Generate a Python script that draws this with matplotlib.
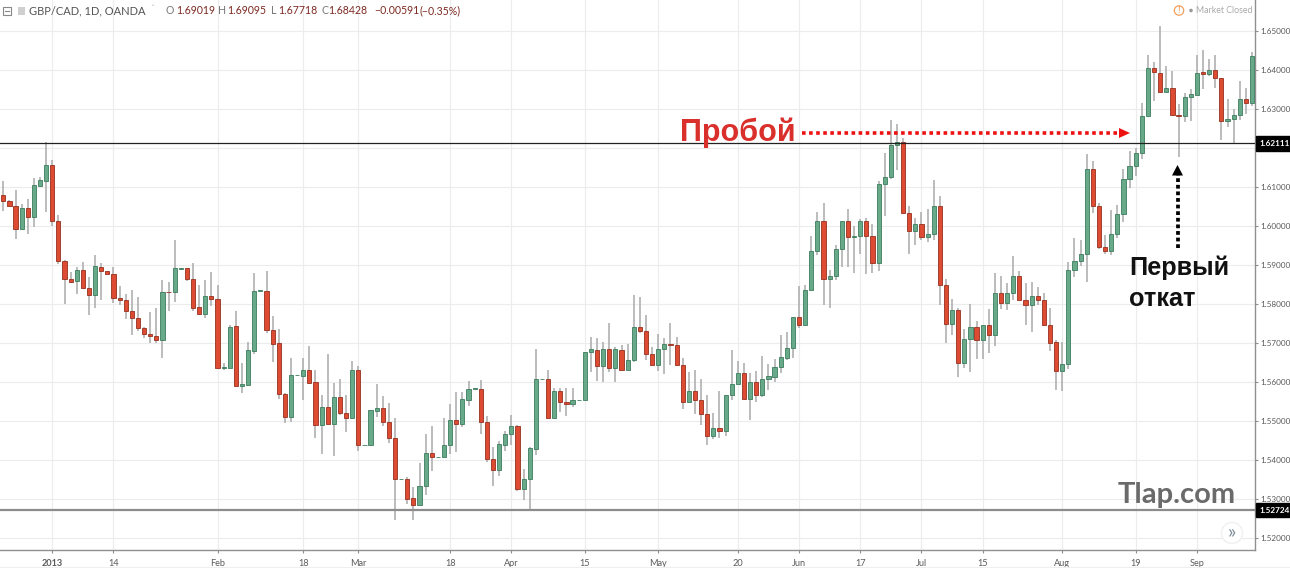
import matplotlib
matplotlib.use('Agg')
import numpy as np
from matplotlib import pyplot as plt
from matplotlib.patches import Circle, Polygon, Rectangle

opens = [
    1.6079, 1.6065, 1.6051, 1.5991, 1.6046, 1.6022, 1.6103, 1.6116, 1.6157, 1.6012,
    1.5911, 1.5864, 1.5858, 1.5887, 1.5841, 1.5823, 1.5896, 1.5884, 1.5878, 1.5816,
    1.5810, 1.5782, 1.5765, 1.5739, 1.5723, 1.5718, 1.5708, 1.5831, 1.5830, 1.5890,
    1.5891, 1.5864, 1.5792, 1.5775, 1.5820, 1.5813, 1.5637, 1.5637, 1.5743, 1.5590,
    1.5593, 1.5680, 1.5834, 1.5834, 1.5733, 1.5699, 1.5569, 1.5511, 1.5617, 1.5616,
    1.5631, 1.5599, 1.5489, 1.5537, 1.5492, 1.5561, 1.5521, 1.5507, 1.5631, 1.5439,
    1.5439, 1.5527, 1.5533, 1.5499, 1.5457, 1.5351, 1.5351, 1.5302, 1.5285, 1.5334,
    1.5418, 1.5407, 1.5407, 1.5439, 1.5504, 1.5492, 1.5555, 1.5583, 1.5583, 1.5499,
    1.5404, 1.5374, 1.5439, 1.5466, 1.5487, 1.5326, 1.5351, 1.5429, 1.5607, 1.5607,
    1.5509, 1.5576, 1.5550, 1.5545, 1.5553, 1.5553, 1.5677, 1.5683, 1.5642, 1.5685,
    1.5637, 1.5681, 1.5632, 1.5656, 1.5742, 1.5732, 1.5673, 1.5645, 1.5684, 1.5698,
    1.5695, 1.5645, 1.5550, 1.5578, 1.5555, 1.5518, 1.5462, 1.5483, 1.5474, 1.5567,
    1.5594, 1.5624, 1.5556, 1.5601, 1.5568, 1.5608, 1.5614, 1.5638, 1.5663, 1.5687,
    1.5767, 1.5745, 1.5835, 1.5936, 1.6012, 1.5864, 1.5873, 1.5942, 1.6012, 1.5972,
    1.5973, 1.6012, 1.5974, 1.5905, 1.6108, 1.6125, 1.6206, 1.6214, 1.6034, 1.5988,
    1.6005, 1.5972, 1.5980, 1.6052, 1.5848, 1.5750, 1.5784, 1.5650, 1.5711, 1.5741,
    1.5707, 1.5745, 1.5720, 1.5828, 1.5803, 1.5829, 1.5872, 1.5810, 1.5797, 1.5821,
    1.5811, 1.5746, 1.5703, 1.5629, 1.5646, 1.5888, 1.5910, 1.5927, 1.6145, 1.6050,
    1.5947, 1.5936, 1.5980, 1.6030, 1.6121, 1.6153, 1.6188, 1.6281, 1.6405, 1.6392,
    1.6343, 1.6354, 1.6284, 1.6281, 1.6330, 1.6336, 1.6393, 1.6390, 1.6400, 1.6379,
    1.6268, 1.6274, 1.6284, 1.6324, 1.6315,
]
highs = [
    1.6115, 1.6067, 1.6092, 1.6055, 1.6069, 1.6123, 1.6125, 1.6215, 1.6168, 1.6028,
    1.5913, 1.5883, 1.5894, 1.5907, 1.5870, 1.5926, 1.5905, 1.5885, 1.5894, 1.5847,
    1.5826, 1.5836, 1.5819, 1.5742, 1.5780, 1.5789, 1.5861, 1.5857, 1.5965, 1.5892,
    1.5892, 1.5904, 1.5849, 1.5861, 1.5883, 1.5849, 1.5650, 1.5747, 1.5782, 1.5648,
    1.5703, 1.5879, 1.5835, 1.5885, 1.5770, 1.5735, 1.5571, 1.5663, 1.5618, 1.5661,
    1.5692, 1.5632, 1.5567, 1.5671, 1.5598, 1.5609, 1.5566, 1.5655, 1.5641, 1.5440,
    1.5528, 1.5596, 1.5565, 1.5547, 1.5509, 1.5352, 1.5357, 1.5332, 1.5393, 1.5466,
    1.5487, 1.5408, 1.5507, 1.5545, 1.5574, 1.5575, 1.5602, 1.5584, 1.5605, 1.5513,
    1.5433, 1.5450, 1.5475, 1.5515, 1.5490, 1.5377, 1.5434, 1.5684, 1.5608, 1.5631,
    1.5586, 1.5584, 1.5584, 1.5584, 1.5554, 1.5678, 1.5716, 1.5714, 1.5703, 1.5752,
    1.5691, 1.5694, 1.5697, 1.5823, 1.5819, 1.5773, 1.5690, 1.5724, 1.5714, 1.5752,
    1.5715, 1.5661, 1.5626, 1.5632, 1.5607, 1.5566, 1.5521, 1.5576, 1.5568, 1.5681,
    1.5653, 1.5650, 1.5624, 1.5628, 1.5667, 1.5647, 1.5660, 1.5720, 1.5728, 1.5767,
    1.5845, 1.5848, 1.5973, 1.6035, 1.6059, 1.5888, 1.5952, 1.6012, 1.6044, 1.6001,
    1.6018, 1.6021, 1.6006, 1.6114, 1.6188, 1.6271, 1.6260, 1.6224, 1.6050, 1.6020,
    1.6036, 1.6044, 1.6117, 1.6076, 1.5863, 1.5814, 1.5790, 1.5737, 1.5799, 1.5756,
    1.5747, 1.5788, 1.5880, 1.5872, 1.5854, 1.5923, 1.5885, 1.5854, 1.5856, 1.5844,
    1.5828, 1.5791, 1.5707, 1.5703, 1.5908, 1.5970, 1.5965, 1.6183, 1.6166, 1.6059,
    1.5976, 1.6042, 1.6053, 1.6145, 1.6191, 1.6200, 1.6315, 1.6437, 1.6420, 1.6512,
    1.6409, 1.6396, 1.6313, 1.6341, 1.6351, 1.6437, 1.6450, 1.6428, 1.6439, 1.6379,
    1.6324, 1.6300, 1.6370, 1.6354, 1.6445,
]
lows = [
    1.6038, 1.6050, 1.5967, 1.5991, 1.5979, 1.5998, 1.6103, 1.6035, 1.6001, 1.5902,
    1.5800, 1.5855, 1.5826, 1.5838, 1.5772, 1.5789, 1.5811, 1.5877, 1.5802, 1.5798,
    1.5761, 1.5720, 1.5730, 1.5712, 1.5699, 1.5699, 1.5663, 1.5782, 1.5804, 1.5890,
    1.5860, 1.5782, 1.5774, 1.5763, 1.5794, 1.5636, 1.5631, 1.5637, 1.5590, 1.5573,
    1.5590, 1.5672, 1.5834, 1.5727, 1.5651, 1.5558, 1.5496, 1.5498, 1.5617, 1.5554,
    1.5598, 1.5456, 1.5415, 1.5492, 1.5411, 1.5515, 1.5473, 1.5507, 1.5423, 1.5439,
    1.5439, 1.5511, 1.5487, 1.5443, 1.5248, 1.5351, 1.5289, 1.5246, 1.5285, 1.5310,
    1.5372, 1.5407, 1.5407, 1.5417, 1.5420, 1.5484, 1.5540, 1.5583, 1.5467, 1.5396,
    1.5335, 1.5359, 1.5424, 1.5439, 1.5321, 1.5298, 1.5272, 1.5413, 1.5607, 1.5509,
    1.5509, 1.5524, 1.5513, 1.5535, 1.5553, 1.5553, 1.5626, 1.5603, 1.5601, 1.5626,
    1.5601, 1.5630, 1.5630, 1.5651, 1.5726, 1.5657, 1.5643, 1.5628, 1.5621, 1.5645,
    1.5645, 1.5530, 1.5550, 1.5519, 1.5489, 1.5439, 1.5455, 1.5457, 1.5461, 1.5553,
    1.5594, 1.5556, 1.5502, 1.5550, 1.5562, 1.5579, 1.5600, 1.5623, 1.5656, 1.5662,
    1.5739, 1.5745, 1.5835, 1.5925, 1.5798, 1.5790, 1.5862, 1.5895, 1.5895, 1.5880,
    1.5929, 1.5878, 1.5880, 1.5885, 1.6026, 1.6119, 1.6144, 1.6034, 1.5929, 1.5950,
    1.5963, 1.5959, 1.5963, 1.5797, 1.5700, 1.5720, 1.5612, 1.5635, 1.5626, 1.5660,
    1.5658, 1.5675, 1.5692, 1.5788, 1.5784, 1.5810, 1.5810, 1.5747, 1.5729, 1.5797,
    1.5743, 1.5680, 1.5581, 1.5577, 1.5634, 1.5868, 1.5897, 1.5857, 1.6032, 1.5942,
    1.5927, 1.5925, 1.5970, 1.6009, 1.6097, 1.6128, 1.6172, 1.6281, 1.6321, 1.6343,
    1.6343, 1.6283, 1.6176, 1.6266, 1.6268, 1.6336, 1.6351, 1.6385, 1.6354, 1.6219,
    1.6253, 1.6209, 1.6270, 1.6287, 1.6306,
]
closes = [
    1.6063, 1.6050, 1.5991, 1.6046, 1.6022, 1.6105, 1.6118, 1.6157, 1.6012, 1.5911,
    1.5863, 1.5857, 1.5887, 1.5841, 1.5823, 1.5897, 1.5884, 1.5878, 1.5815, 1.5809,
    1.5781, 1.5764, 1.5738, 1.5722, 1.5717, 1.5708, 1.5831, 1.5830, 1.5891, 1.5891,
    1.5863, 1.5791, 1.5775, 1.5820, 1.5812, 1.5637, 1.5639, 1.5741, 1.5590, 1.5594,
    1.5682, 1.5834, 1.5835, 1.5733, 1.5698, 1.5569, 1.5511, 1.5618, 1.5618, 1.5631,
    1.5598, 1.5489, 1.5537, 1.5492, 1.5561, 1.5520, 1.5507, 1.5631, 1.5439, 1.5440,
    1.5528, 1.5533, 1.5498, 1.5456, 1.5351, 1.5352, 1.5300, 1.5285, 1.5334, 1.5418,
    1.5407, 1.5408, 1.5440, 1.5504, 1.5492, 1.5556, 1.5583, 1.5584, 1.5498, 1.5403,
    1.5374, 1.5441, 1.5466, 1.5487, 1.5326, 1.5351, 1.5430, 1.5607, 1.5608, 1.5509,
    1.5576, 1.5550, 1.5545, 1.5553, 1.5554, 1.5678, 1.5684, 1.5642, 1.5685, 1.5637,
    1.5684, 1.5632, 1.5657, 1.5742, 1.5732, 1.5673, 1.5645, 1.5684, 1.5698, 1.5695,
    1.5645, 1.5550, 1.5578, 1.5555, 1.5518, 1.5462, 1.5483, 1.5474, 1.5568, 1.5594,
    1.5624, 1.5556, 1.5601, 1.5568, 1.5609, 1.5615, 1.5638, 1.5664, 1.5688, 1.5767,
    1.5745, 1.5835, 1.5936, 1.6012, 1.5864, 1.5873, 1.5942, 1.6012, 1.5972, 1.5973,
    1.6012, 1.5974, 1.5904, 1.6108, 1.6125, 1.6206, 1.6214, 1.6034, 1.5988, 1.6005,
    1.5972, 1.5980, 1.6052, 1.5848, 1.5750, 1.5784, 1.5650, 1.5711, 1.5741, 1.5707,
    1.5745, 1.5720, 1.5828, 1.5803, 1.5829, 1.5872, 1.5810, 1.5797, 1.5821, 1.5811,
    1.5746, 1.5701, 1.5629, 1.5646, 1.5888, 1.5910, 1.5927, 1.6145, 1.6050, 1.5946,
    1.5935, 1.5980, 1.6030, 1.6121, 1.6153, 1.6187, 1.6281, 1.6405, 1.6393, 1.6343,
    1.6354, 1.6283, 1.6281, 1.6331, 1.6337, 1.6392, 1.6390, 1.6400, 1.6378, 1.6268,
    1.6274, 1.6284, 1.6324, 1.6315, 1.6434,
]

# bar number of each date label on the time axis
date_ticks = [9, 19, 36, 50, 59, 74, 84, 96, 108, 121, 131, 141, 151, 161, 174, 186, 196]
date_labels = ['2013', '14', 'Feb', '18', 'Mar', '18', 'Apr', '15', 'May', '20',
               'Jun', '17', 'Jul', '15', 'Aug', '19', 'Sep']
price_ticks = [1.52, 1.53, 1.54, 1.55, 1.56, 1.57, 1.58, 1.59, 1.60, 1.61, 1.62, 1.63, 1.64, 1.65]
resistance = 1.62111
support = 1.52724

W, H = 1290, 568
UP, UP_EDGE = '#68a98a', '#3c7c5d'
DOWN, DOWN_EDGE = '#dd4b33', '#96301f'
GRID = '#ececec'
AXIS = '#8f8f8f'
LABEL = '#5a5a5a'
UI_FONT = 'Lato'

fig = plt.figure(figsize=(W / 100, H / 100), dpi=100, facecolor='white')
ax = fig.add_axes([0, 1 - 550 / H, 1255 / W, 550 / H])
ax.set_xlim(0.461, 205.49)
ax.set_ylim(1.5170, 1.65786)

ax.set_axisbelow(True)
ax.grid(True, color=GRID, lw=0.8)
for side in ('left', 'top'):
    ax.spines[side].set_visible(False)
for side in ('right', 'bottom'):
    ax.spines[side].set_color(AXIS)
    ax.spines[side].set_linewidth(1.0)

ax.yaxis.tick_right()
ax.set_yticks(price_ticks)
ax.set_yticklabels([f'{p:.5f}' for p in price_ticks], fontsize=5.9, family=UI_FONT, color=LABEL)
ax.set_xticks(date_ticks)
ax.set_xticklabels(date_labels, fontsize=6.6, family=UI_FONT, color=LABEL)
ax.get_xticklabels()[0].set_fontweight('bold')
ax.tick_params(axis='y', length=2, width=0.8, color=AXIS, pad=2)
ax.tick_params(axis='x', length=2.5, width=0.8, color=AXIS, pad=4)

bars = np.arange(1, len(opens) + 1)
o, h, l, c = map(np.array, (opens, highs, lows, closes))
up = c >= o

ax.vlines(bars, l, h, color='#aaaaaa', lw=1.1, zorder=2)
ax.bar(bars[up], (c - o)[up], bottom=o[up], width=0.68, color=UP,
       edgecolor=UP_EDGE, linewidth=0.6, zorder=3)
ax.bar(bars[~up], (c - o)[~up], bottom=o[~up], width=0.68, color=DOWN,
       edgecolor=DOWN_EDGE, linewidth=0.6, zorder=3)

# horizontal levels with their price tags
ax.axhline(resistance, color='#222222', lw=0.9, zorder=4)
ax.axhline(support, color='#8c8c8c', lw=1.6, zorder=4)
for level in (resistance, support):
    ax.text(1.0035, level, f'{level:.5f}', transform=ax.get_yaxis_transform(),
            ha='left', va='center', fontsize=5.9, family=UI_FONT, fontweight='bold',
            color='white', zorder=6, clip_on=False,
            bbox=dict(fc='black', ec='black', boxstyle='square,pad=0.45'))

# overlay in image pixels for the header, annotations and widgets
over = fig.add_axes([0, 0, 1, 1], facecolor='none')
over.set_xlim(0, W)
over.set_ylim(H, 0)
over.axis('off')

over.add_patch(Rectangle((3, 7), 8, 8, fc='white', ec='#888888', lw=0.8))
over.plot([5, 9], [11, 11], color='#888888', lw=0.8)
over.add_patch(Rectangle((17.5, 7), 7, 8, fc='#cfcfcf', ec='none'))

over.text(29, 11, 'GBP/CAD, 1D, OANDA', fontsize=8, family=UI_FONT, color='#555555', va='center')
over.text(150, 10, 'ˇ', fontsize=6, color='#bbbbbb', va='center')
header = [(166, 'O', '#777777'), (176, '1.69019', '#7d2a22'),
          (218, 'H', '#777777'), (227, '1.69095', '#7d2a22'),
          (271, 'L', '#777777'), (278, '1.67718', '#7d2a22'),
          (321, 'C', '#777777'), (328, '1.68428', '#7d2a22'),
          (374, '\u22120.00591', '#7d2a22'), (420, '(\u22120.35%)', '#7d2a22')]
for x, s, col in header:
    over.text(x, 11, s, fontsize=7.6, family=UI_FONT, color=col, va='center')

over.add_patch(Circle((1179, 10.5), 4.7, fc='white', ec='#f0a060', lw=0.9))
over.text(1179, 10.5, '!', fontsize=6.5, family=UI_FONT, color='#e88a40', ha='center', va='center')
over.add_patch(Circle((1191, 10.5), 1.8, fc='#999999', ec='none'))
over.text(1196, 10.5, 'Market Closed', fontsize=6.3, family=UI_FONT, color='#aaaaaa', va='center')

over.add_patch(Circle((1232, 533), 10.5, fc='white', ec='#f0f0f0', lw=1))
over.text(1232, 532, '\u00bb', fontsize=14, family=UI_FONT, color='#7a8a96', ha='center', va='center')
over.plot([0, W], [567, 567], color='#efefef', lw=0.8)

over.text(737.5, 141.5, 'Пробой', fontsize=22, family='Liberation Sans', fontweight='bold',
          color='#d9302c', ha='center', va='baseline')
over.plot([802, 1120], [133, 133], color='#ee1111', lw=2.6, ls=(0, (1, 0.96)))
over.add_patch(Polygon([(1119, 128), (1130, 133), (1119, 138)], fc='#ee1111', ec='none'))

over.plot([1177.5, 1177.5], [248, 175], color='black', lw=2.7, ls=(0, (1, 0.76)))
over.add_patch(Polygon([(1172, 175.5), (1177.5, 165), (1183, 175.5)], fc='black', ec='none'))
over.text(1129, 275, 'Первый', fontsize=18.2, family='Liberation Sans', fontweight='bold',
          color='#111111', va='baseline')
over.text(1129, 306, 'откат', fontsize=18.2, family='Liberation Sans', fontweight='bold',
          color='#111111', va='baseline')
over.text(1118, 503, 'Tlap.com', fontsize=21, family='Lato', fontweight='bold',
          color='#6a6a6a', va='baseline')

fig.savefig('out.png', dpi=100)
